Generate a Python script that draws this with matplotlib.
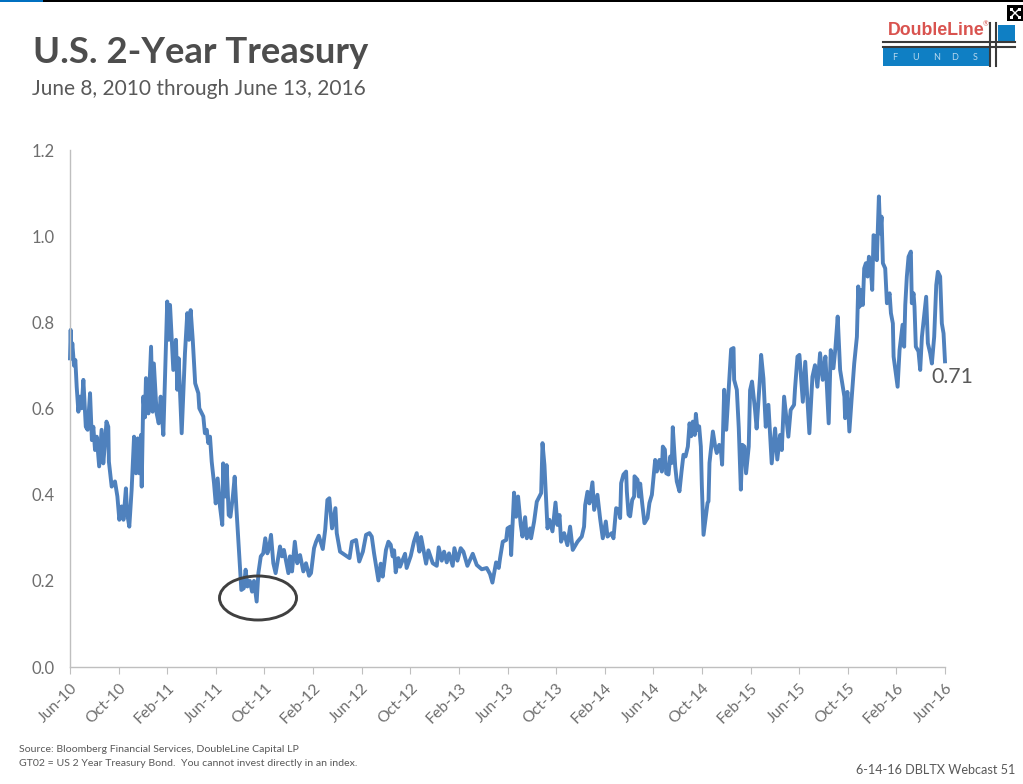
import matplotlib
matplotlib.use('Agg')
import matplotlib.pyplot as plt
from matplotlib.patches import Ellipse, Rectangle

plt.rcParams['font.family'] = ['Lato', 'DejaVu Sans']

# months since Jun-10
months = [0, .055, .11, .19, .33, .44, .55, .69, .82, .96, 1.1, 1.3, 1.45, 1.65, 1.8, 1.92, 2.06, 2.2, 2.4, 2.6,
          2.74, 2.88, 3.0, 3.15, 3.2, 3.43, 3.7, 3.9, 4.06, 4.25, 4.4, 4.6, 4.7, 4.88, 5.07, 5.27, 5.43, 5.57, 5.7, 5.84,
          5.9, 6.03, 6.17, 6.25, 6.45, 6.67, 6.8, 6.9, 7.13, 7.3, 7.46, 7.68, 7.85, 8.0, 8.12, 8.23, 8.37, 8.5, 8.72, 8.83,
          8.94, 9.19, 9.46, 9.65, 9.79, 9.93, 10.1, 10.3, 10.56, 10.64, 10.97, 11.1, 11.25, 11.38, 11.52, 11.66, 11.85, 11.99, 12.15, 12.34,
          12.53, 12.6, 12.78, 12.89, 13.06, 13.2, 13.4, 13.55, 13.7, 13.93, 14.1, 14.3, 14.45, 14.6, 14.8, 14.98, 15.14, 15.36, 15.5, 15.7,
          15.9, 16.07, 16.24, 16.4, 16.54, 16.73, 16.92, 17.06, 17.28, 17.44, 17.6, 17.97, 18.1, 18.27, 18.5, 18.7, 18.93, 19.2, 19.42, 19.67,
          19.83, 20.08, 20.25, 20.47, 20.8, 21.0, 21.18, 21.34, 21.56, 21.84, 21.95, 22.22, 22.63, 23.0, 23.2, 23.54, 23.8, 24.1, 24.36, 24.64,
          24.83, 25.02, 25.38, 25.57, 25.73, 26.0, 26.2, 26.39, 26.55, 26.67, 26.8, 27.02, 27.16, 27.57, 27.7, 28.04, 28.3, 28.53, 28.75, 28.89,
          29.3, 29.49, 29.85, 30.18, 30.34, 30.59, 30.78, 31.0, 31.19, 31.49, 31.63, 31.88, 32.15, 32.37, 32.7, 33.14, 33.47, 33.88, 34.29, 34.56,
          34.76, 35.06, 35.28, 35.39, 35.61, 35.89, 36.0, 36.22, 36.3, 36.54, 36.71, 36.87, 37.09, 37.23, 37.45, 37.59, 37.86, 37.94, 38.19, 38.41,
          38.63, 38.77, 38.88, 39.04, 39.29, 39.45, 39.7, 39.95, 40.11, 40.28, 40.41, 40.66, 40.93, 41.15, 41.37, 41.76, 42.11, 42.3, 42.39, 42.58,
          42.74, 42.99, 43.13, 43.4, 43.62, 43.84, 44.09, 44.23, 44.58, 44.72, 44.94, 45.16, 45.27, 45.35, 45.54, 45.76, 45.82, 45.96, 46.09, 46.26,
          46.42, 46.45, 46.7, 46.81, 46.92, 47.08, 47.27, 47.52, 47.68, 47.88, 48.15, 48.29, 48.5, 48.7, 48.78, 48.95, 49.06, 49.25, 49.39, 49.52,
          49.6, 49.8, 49.93, 50.15, 50.32, 50.48, 50.65, 50.84, 50.98, 51.11, 51.25, 51.41, 51.5, 51.63, 51.77, 51.91, 51.99, 52.13, 52.32, 52.46,
          52.54, 52.62, 52.9, 53.09, 53.22, 53.42, 53.58, 53.66, 53.83, 54.0, 54.18, 54.4, 54.6, 54.65, 54.87, 55.03, 55.2, 55.33, 55.5, 55.63,
          55.85, 55.96, 56.12, 56.37, 56.5, 56.78, 56.87, 57.06, 57.25, 57.47, 57.74, 58.02, 58.2, 58.43, 58.57, 58.76, 59.11, 59.3, 59.58, 59.66,
          59.86, 60.02, 60.3, 60.5, 60.84, 61.09, 61.3, 61.5, 61.72, 61.94, 62.16, 62.43, 62.6, 62.82, 62.98, 63.17, 63.37, 63.72, 63.78, 63.97,
          64.13, 64.33, 64.53, 64.75, 64.86, 64.97, 65.1, 65.24, 65.35, 65.49, 65.63, 65.74, 65.9, 66.01, 66.12, 66.28, 66.39, 66.56, 66.67, 66.78,
          66.89, 67.08, 67.22, 67.44, 67.55, 67.71, 67.77, 67.99, 68.1, 68.26, 68.51, 68.64, 68.73, 68.86, 69.0, 69.19, 69.27, 69.41, 69.49, 69.6,
          69.82, 69.96, 70.1, 70.29, 70.45, 70.59, 70.78, 70.92, 71.11, 71.28, 71.41, 71.6, 71.74, 71.88, 72.0]

yields = [.717, .783, .717, .752, .70, .713, .651, .593, .628, .601, .667, .558, .551, .636, .527, .558, .504, .535, .466, .551,
          .473, .52, .57, .558, .477, .419, .431, .396, .342, .373, .342, .415, .357, .326, .411, .535, .45, .531, .45, .539,
          .419, .628, .58, .671, .589, .744, .593, .705, .589, .566, .628, .539, .705, .849, .76, .841, .76, .69, .76, .644,
          .717, .543, .729, .822, .76, .829, .76, .659, .636, .601, .582, .543, .551, .52, .535, .477, .427, .38, .438, .373,
          .33, .473, .396, .469, .353, .349, .396, .442, .365, .257, .179, .183, .226, .187, .2, .175, .2, .152, .218, .257,
          .264, .299, .264, .28, .307, .241, .218, .241, .28, .257, .272, .218, .257, .222, .291, .241, .26, .222, .241, .212,
          .218, .276, .291, .305, .274, .319, .388, .392, .322, .369, .311, .268, .26, .253, .291, .295, .245, .268, .307, .311,
          .303, .264, .201, .24, .21, .272, .291, .284, .257, .271, .22, .253, .233, .263, .23, .258, .291, .311, .268, .302,
          .24, .271, .241, .235, .278, .247, .268, .243, .264, .235, .276, .247, .276, .268, .235, .263, .237, .227, .23, .216,
          .196, .243, .23, .253, .291, .295, .322, .326, .26, .405, .349, .396, .33, .303, .348, .299, .322, .299, .338, .384,
          .396, .404, .52, .469, .322, .342, .315, .382, .33, .353, .291, .311, .283, .326, .272, .291, .303, .326, .376, .407,
          .38, .429, .365, .4, .345, .299, .338, .303, .311, .299, .369, .365, .346, .427, .447, .454, .408, .354, .35, .388,
          .396, .443, .435, .396, .426, .381, .334, .346, .381, .4, .481, .454, .481, .454, .512, .505, .45, .447, .489, .474,
          .557, .466, .431, .408, .454, .493, .489, .512, .566, .536, .57, .539, .588, .551, .559, .512, .423, .307, .35, .381,
          .385, .474, .547, .512, .497, .516, .497, .47, .644, .551, .636, .738, .741, .667, .644, .555, .412, .516, .512, .45,
          .512, .643, .663, .597, .554, .674, .725, .67, .558, .609, .473, .554, .482, .539, .504, .628, .535, .597, .609, .647,
          .721, .725, .616, .709, .543, .674, .701, .651, .729, .667, .721, .566, .736, .694, .74, .814, .69, .628, .578, .639,
          .547, .628, .705, .767, .884, .837, .876, .841, .926, .938, .907, .953, .922, .876, 1.003, 1.0, .945, 1.093, 1.007, 1.046,
          .938, .926, .845, .868, .822, .798, .721, .675, .651, .736, .795, .744, .841, .907, .953, .965, .845, .868, .837, .744,
          .733, .69, .767, .818, .86, .752, .729, .705, .767, .887, .918, .907, .798, .775, .71]

tick_labels = ['Jun-10', 'Oct-10', 'Feb-11', 'Jun-11', 'Oct-11', 'Feb-12', 'Jun-12', 'Oct-12', 'Feb-13', 'Jun-13',
               'Oct-13', 'Feb-14', 'Jun-14', 'Oct-14', 'Feb-15', 'Jun-15', 'Oct-15', 'Feb-16', 'Jun-16']
tick_months = list(range(0, 73, 4))
y_ticks = [0.0, 0.2, 0.4, 0.6, 0.8, 1.0, 1.2]

W, H = 1023, 784
GREY = '#595959'
TICK_GREY = '#6e6e6e'
BLUE = '#4f81bd'

fig = plt.figure(figsize=(W / 100, H / 100), dpi=100)

# chart area, placed in pixels
ax = fig.add_axes([70 / W, 1 - 667 / H, 875 / W, (667 - 150.4) / H])
ax.plot(months, yields, color=BLUE, lw=2.8, solid_joinstyle='round', clip_on=False)
ax.set_xlim(0, 72)
ax.set_ylim(0, 1.2)
ax.set_xticks(tick_months)
ax.set_xticklabels(tick_labels, rotation=45, ha='right', rotation_mode='anchor', fontsize=11.3, color=TICK_GREY)
ax.set_yticks(y_ticks)
ax.set_yticklabels(['%.1f' % v for v in y_ticks], fontsize=12, color=TICK_GREY)
ax.tick_params(axis='x', length=5, color='#bfbfbf', pad=5)
ax.tick_params(axis='y', length=0, pad=11)
for s in ['top', 'right']:
    ax.spines[s].set_visible(False)
for s in ['left', 'bottom']:
    ax.spines[s].set_color('#bfbfbf')
    ax.spines[s].set_linewidth(1)
ax.annotate('0.71', (months[-1], yields[-1]), xytext=(-10, -11), textcoords='offset points',
            fontsize=15.3, color=GREY, va='center')

# slide furniture on a full-figure layer, y running downwards
pg = fig.add_axes([0, 0, 1, 1], zorder=5)
pg.set_xlim(0, W)
pg.set_ylim(H, 0)
pg.axis('off')

pg.add_patch(Rectangle((0, 0), 43, 2, color='#0070c0', lw=0))
pg.add_patch(Rectangle((43, 0), W - 43, 2, color='black', lw=0))

pg.text(33, 52, 'U.S. 2-Year Treasury', fontsize=26.3, fontweight='bold', color='#4d4d4d', va='center')
pg.text(32, 89, 'June 8, 2010 through June 13, 2016', fontsize=15, color=GREY, va='center')

# circled low
pg.add_patch(Ellipse((258, 598), 77, 44, fill=False, ec='#404040', lw=2.1))

pg.text(19, 749, 'Source: Bloomberg Financial Services, DoubleLine Capital LP', fontsize=7.55, color=GREY, va='center')
pg.text(19, 763, 'GT02 = US 2 Year Treasury Bond.  You cannot invest directly in an index.', fontsize=7.55, color=GREY, va='center')
pg.text(1015, 770, '6-14-16 DBLTX Webcast 51', fontsize=9.1, color=GREY, va='center', ha='right')

# logo
LOGO_BLUE = '#0f7fc4'
pg.add_patch(Rectangle((883, 48), 108, 18, color=LOGO_BLUE, lw=0))
pg.add_patch(Rectangle((998, 25), 17, 17, color=LOGO_BLUE, lw=0))
pg.text(888, 30, 'DoubleLine', fontsize=12.8, fontweight='bold', family='Liberation Sans', color='#d9534f', va='center')
pg.text(983, 24, '®', fontsize=5, color='#d9534f', va='center')
for letter, x in zip('FUNDS', [895, 916, 937, 955, 975]):
    pg.text(x, 57, letter, fontsize=6.5, color='#b8d8ee', ha='center', va='center')
for y in [42, 47]:
    pg.plot([883, 1015], [y, y], color='#3a3a3a', lw=1.5)
for x in [990, 996]:
    pg.plot([x, x], [23, 66], color='#3a3a3a', lw=1.5)

# expand icon
pg.add_patch(Rectangle((1007, 5), 16, 16, color='black', lw=0))
for x, y in [(1011, 9), (1019, 9), (1011, 17), (1019, 17)]:
    pg.plot([x, 1015], [y, 13], color='white', lw=1)
    pg.add_patch(Rectangle((x - 1.5, y - 1.5), 3, 3, color='white', lw=0))

fig.savefig('out.png', dpi=100)
